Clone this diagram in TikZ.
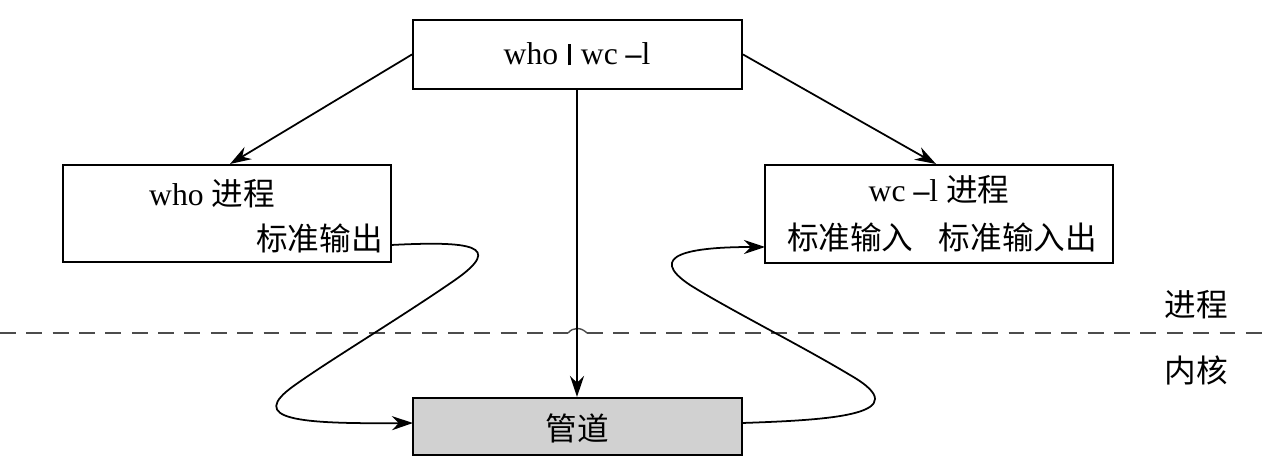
\documentclass[tikz,border=0pt]{standalone}
\usepackage{fontspec}
\setmainfont{Liberation Serif}
\newfontfamily\cjk{Noto Sans CJK SC}
\usetikzlibrary{arrows.meta}
\begin{document}
\begin{tikzpicture}[x=0.02cm,y=-0.02cm,
  box/.style={draw,line width=1.2pt,inner sep=0pt},
  conn/.style={line width=1pt,-{Stealth[length=12pt,width=8pt]}},
  lbl/.style={font=\fontsize{18pt}{20pt}\selectfont,inner sep=0pt}]
\useasboundingbox (0,0) rectangle (1270,472);
% boxes
\node[box,minimum width=329*0.02cm,minimum height=69*0.02cm] (top) at (577.5,54.5) {};
\node[lbl] (toptext) at (577,54) {who\hspace{0.3em}\rule[-0.02em]{0.12em}{0.68em}\hspace{0.3em}wc {\bfseries\textendash}l};
\node[box,minimum width=328*0.02cm,minimum height=97*0.02cm] (left) at (227,213.5) {};
\node[lbl] (lefta) at (212,194) {who {\cjk 进程}};
\node[lbl,anchor=east] (leftb) at (383,238) {\cjk 标准输出};
\node[box,minimum width=348*0.02cm,minimum height=98*0.02cm] (right) at (939,214) {};
\node[lbl] (righta) at (939,190) {wc {\bfseries\textendash}l {\cjk 进程}};
\node[lbl] (rightb) at (942,237) {\cjk 标准输入\hspace{0.8em}标准输入出};
\node[box,fill=black!18,minimum width=329*0.02cm,minimum height=57*0.02cm] (pipe) at (577.5,426.5) {};
\node[lbl] (pipetext) at (577,428) {\cjk 管道};
% divider
\coordinate (d0) at (0,333);
\coordinate (d1) at (568,333);
\coordinate (d2) at (587,333);
\coordinate (d3) at (1262,333);
\draw[dashed,dash pattern=on 9pt off 6pt,line width=0.8pt,black!70] (d0) -- (d1);
\draw[line width=0.8pt,black!70] (d1) .. controls (573,327) and (581,327) .. (d2);
\draw[dashed,dash pattern=on 9pt off 6pt,line width=0.8pt,black!70] (d2) -- (d3);
\node[lbl] (proc) at (1196,305) {\cjk 进程};
\node[lbl] (kern) at (1196,370) {\cjk 内核};
% arrows
\draw[conn] (top.west) -- (230,164);
\draw[conn] (top.east) -- (936,164);
\draw[conn] (top.south -| 577,0) -- (pipe.north -| 577,0);
\coordinate (lo) at (391,245);
\coordinate (li) at (413,423);
\draw[conn] (lo) .. controls (470,241) and (505,245) .. (455,280)
  .. controls (400,318) and (330,360) .. (295,385)
  .. controls (245,420) and (300,424) .. (li);
\coordinate (ro) at (742,423);
\coordinate (ri) at (765,247);
\draw[conn] (ro) .. controls (830,420) and (920,415) .. (850,375)
  .. controls (800,345) and (730,310) .. (690,285)
  .. controls (645,255) and (690,247) .. (ri);
\end{tikzpicture}
\end{document}
